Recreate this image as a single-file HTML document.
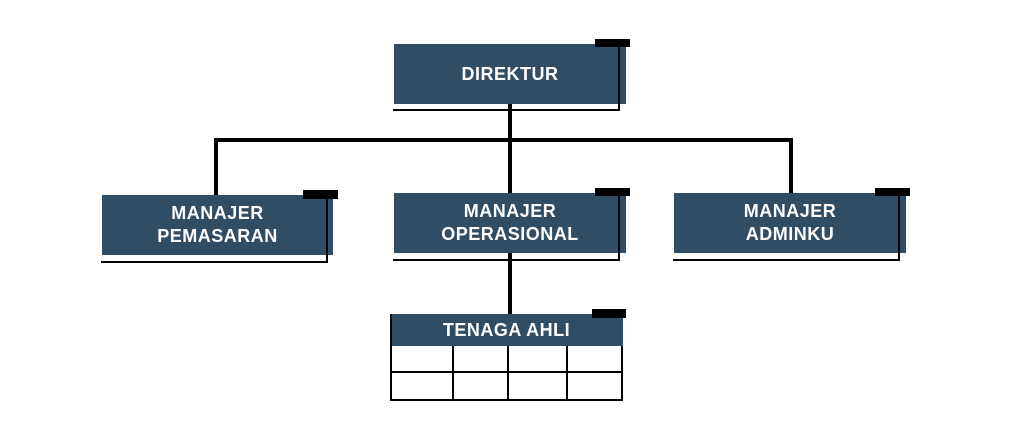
<!DOCTYPE html>
<html><head><meta charset="utf-8"><style>
body{margin:0;width:1024px;height:448px;background:#fff;position:relative;overflow:hidden;font-family:"Liberation Sans",sans-serif}
div{position:absolute;box-sizing:border-box}
.b{background:#304d66;color:#fff;font-weight:bold;font-size:18px;text-align:center;display:flex;align-items:center;justify-content:center;line-height:23px;letter-spacing:0.5px}
.k{background:#000}
</style></head><body>
<div class="k" style="left:508px;top:104px;width:4px;height:90px"></div>
<div class="k" style="left:214px;top:138px;width:579px;height:4px"></div>
<div class="k" style="left:214px;top:138px;width:4px;height:58px"></div>
<div class="k" style="left:789px;top:138px;width:4px;height:56px"></div>
<div class="k" style="left:508px;top:253px;width:4px;height:62px"></div>

<div class="b" style="left:394px;top:44px;width:232px;height:60px">DIREKTUR</div>
<div class="k" style="left:595px;top:39px;width:35px;height:8px"></div>
<div class="k" style="left:618px;top:44px;width:2px;height:67px"></div>
<div class="k" style="left:393px;top:109px;width:227px;height:2px"></div>

<div class="b" style="left:102px;top:195px;width:231px;height:60px">MANAJER<br>PEMASARAN</div>
<div class="k" style="left:303px;top:190px;width:35px;height:9px"></div>
<div class="k" style="left:326px;top:195px;width:2px;height:68px"></div>
<div class="k" style="left:101px;top:261px;width:227px;height:2px"></div>

<div class="b" style="left:394px;top:193px;width:232px;height:60px">MANAJER<br>OPERASIONAL</div>
<div class="k" style="left:595px;top:188px;width:35px;height:8px"></div>
<div class="k" style="left:618px;top:193px;width:2px;height:68px"></div>
<div class="k" style="left:393px;top:259px;width:227px;height:2px"></div>

<div class="b" style="left:674px;top:193px;width:232px;height:60px">MANAJER<br>ADMINKU</div>
<div class="k" style="left:875px;top:188px;width:35px;height:8px"></div>
<div class="k" style="left:898px;top:193px;width:2px;height:68px"></div>
<div class="k" style="left:673px;top:259px;width:227px;height:2px"></div>

<div class="b" style="left:390px;top:314px;width:233px;height:32px">TENAGA AHLI</div>
<div class="k" style="left:592px;top:309px;width:34px;height:9px"></div>
<div style="left:390px;top:346px;width:233px;height:55px;border:2px solid #000;border-top:none"></div>
<div class="k" style="left:390px;top:371px;width:233px;height:2px"></div>
<div class="k" style="left:452px;top:346px;width:2px;height:55px"></div>
<div class="k" style="left:507px;top:346px;width:2px;height:55px"></div>
<div class="k" style="left:566px;top:346px;width:2px;height:55px"></div>
<div class="k" style="left:390px;top:314px;width:2px;height:87px"></div>
</body></html>
